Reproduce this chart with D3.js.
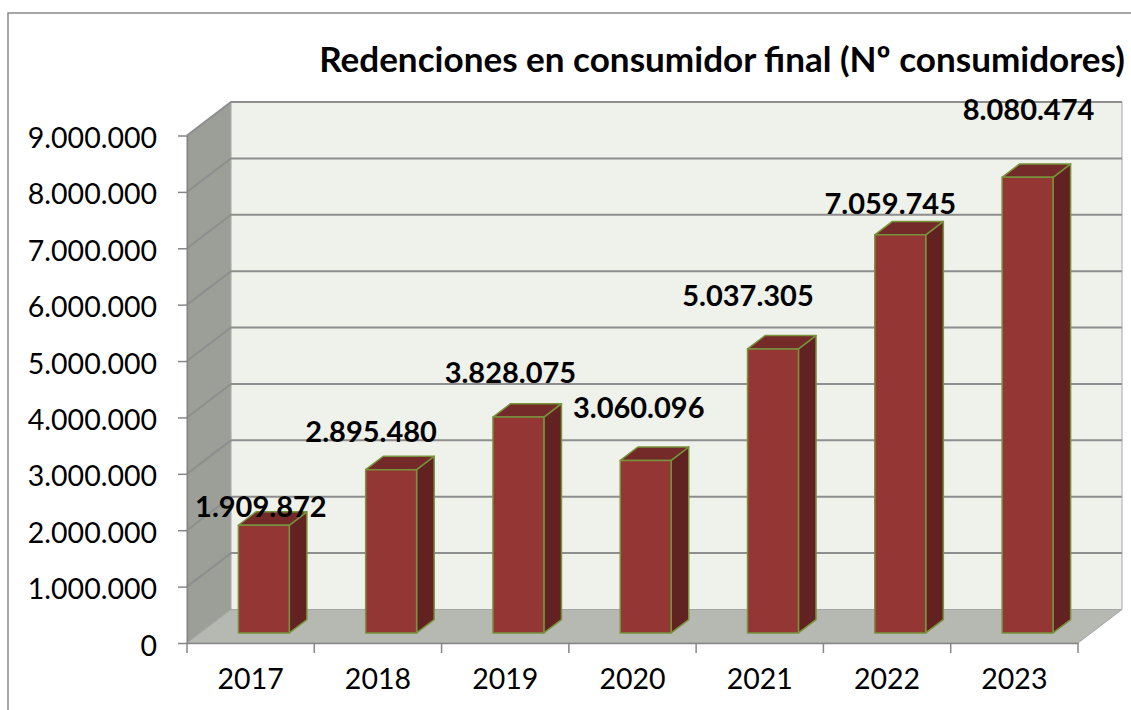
<!DOCTYPE html>
<html>
<head>
<meta charset="utf-8">
<script src="https://cdn.jsdelivr.net/npm/d3@7"></script>
<style>
  body { margin: 0; background: #fff; }
  svg { display: block; font-family: Lato, "Open Sans", sans-serif; }
</style>
</head>
<body>
<script>
// data
const years = ["2017", "2018", "2019", "2020", "2021", "2022", "2023"];
const values = [1909872, 2895480, 3828075, 3060096, 5037305, 7059745, 8080474];
const yTicks = [0, 1000000, 2000000, 3000000, 4000000, 5000000, 6000000, 7000000, 8000000, 9000000];
const title = "Redenciones en consumidor final (Nº consumidores)";

// layout
const W = 1131, H = 710;
const plotLeft = 187, plotRight = 1078, plotBottom = 643, plotTop = 135.5;
const DX = 44, DY = 33.5;            // depth of the 3d box
const barD0 = 0.3, barD1 = 0.7;      // bars sit in the middle of the depth
// excel put the value labels a bit all over the place
const labelNudge = [[-3, -8], [-20, -28], [-8, -34], [-7, -42], [-25, -43], [-10, -21], [1, -57]];
const titleWidth = 806;

const es = d3.formatLocale({decimal: ",", thousands: ".", grouping: [3], currency: ["", "€"]});
const fmt = es.format(",d");

const svg = d3.select("body").append("svg")
    .attr("width", W)
    .attr("height", H);

// chart border
svg.append("rect")
    .attr("x", 8).attr("y", 13)
    .attr("width", 1300).attr("height", 900)
    .attr("fill", "none")
    .attr("stroke", "#8a8a8a")
    .attr("stroke-width", 1.5);

const x = d3.scaleBand().domain(years).range([plotLeft, plotRight]).padding(0);
const y = d3.scaleLinear().domain([0, 9000000]).range([plotBottom, plotTop]);

// shift a front-plane point back by depth d (0..1)
const P = (px, py, d) => [px + d * DX, py - d * DY];
const pts = arr => arr.map(p => p.join(",")).join(" ");

// left wall
svg.append("polygon")
    .attr("points", pts([P(plotLeft, y(0), 0), P(plotLeft, y(9e6), 0), P(plotLeft, y(9e6), 1), P(plotLeft, y(0), 1)]))
    .attr("fill", "#9c9e98")
    .attr("stroke", "#a6a6a6")
    .attr("stroke-width", 1);

// back wall
svg.append("polygon")
    .attr("points", pts([P(plotLeft, y(0), 1), P(plotLeft, y(9e6), 1), P(plotRight, y(9e6), 1), P(plotRight, y(0), 1)]))
    .attr("fill", "#eff1eb")
    .attr("stroke", "#a6a6a6")
    .attr("stroke-width", 1);

// floor
svg.append("polygon")
    .attr("points", pts([P(plotLeft, y(0), 0), P(plotRight, y(0), 0), P(plotRight, y(0), 1), P(plotLeft, y(0), 1)]))
    .attr("fill", "#b6b8b2")
    .attr("stroke", "#a6a6a6")
    .attr("stroke-width", 1);

// gridlines, on the side wall and the back wall
const grid = svg.append("g")
    .attr("stroke", "#8e8e8e")
    .attr("stroke-width", 2)
    .attr("fill", "none");

grid.selectAll("polyline")
    .data(yTicks.filter(d => d > 0))
    .join("polyline")
    .attr("points", d => pts([P(plotLeft, y(d), 0), P(plotLeft, y(d), 1), P(plotRight, y(d), 1)]));

// y axis
const yAxis = d3.axisLeft(y)
    .tickValues(yTicks)
    .tickFormat(fmt)
    .tickSizeInner(9)
    .tickSizeOuter(0)
    .tickPadding(21);

const gy = svg.append("g")
    .attr("transform", `translate(${plotLeft},0)`)
    .call(yAxis);
gy.select(".domain").attr("stroke", "#868686").attr("stroke-width", 1.5);
gy.selectAll(".tick line").attr("stroke", "#868686").attr("stroke-width", 1.5);
gy.selectAll(".tick text")
    .attr("dy", 12)
    .attr("fill", "#000")
    .style("font-family", "Lato")
    .style("font-size", "28.5px");

// x axis: labels at centres, ticks on the band edges
const xAxis = d3.axisBottom(x)
    .tickSize(0)
    .tickPadding(32);

const gx = svg.append("g")
    .attr("transform", `translate(0,${plotBottom})`)
    .call(xAxis);
gx.select(".domain").attr("stroke", "#868686").attr("stroke-width", 1.5);
gx.selectAll(".tick text")
    .attr("dy", "0.5em")
    .attr("fill", "#000")
    .style("font-family", "Lato")
    .style("font-size", "28.5px");

gx.selectAll(".edge")
    .data(d3.range(years.length + 1))
    .join("line")
    .attr("class", "edge")
    .attr("x1", i => plotLeft + i * x.step())
    .attr("x2", i => plotLeft + i * x.step())
    .attr("y1", 0)
    .attr("y2", 10)
    .attr("stroke", "#868686")
    .attr("stroke-width", 1.5);

// bars
const bw = x.bandwidth() * 0.4;
const bars = svg.append("g")
    .attr("stroke", "#77933c")
    .attr("stroke-width", 1.5)
    .attr("stroke-linejoin", "round");

const bar = bars.selectAll("g")
    .data(years.map((yr, i) => ({yr, v: values[i]})))
    .join("g");

const corner = (d, side, val, depth) => {
    const cx = x(d.yr) + x.bandwidth() / 2;
    return P(cx + side * bw / 2, y(val), depth);
};

// side face
bar.append("polygon")
    .attr("fill", "#622222")
    .attr("points", d => pts([
        corner(d, 1, d.v, barD0), corner(d, 1, d.v, barD1),
        corner(d, 1, 0, barD1), corner(d, 1, 0, barD0)]));

// top face
bar.append("polygon")
    .attr("fill", "#742a28")
    .attr("points", d => pts([
        corner(d, -1, d.v, barD0), corner(d, 1, d.v, barD0),
        corner(d, 1, d.v, barD1), corner(d, -1, d.v, barD1)]));

// front face
bar.append("polygon")
    .attr("fill", "#943634")
    .attr("points", d => pts([
        corner(d, -1, d.v, barD0), corner(d, 1, d.v, barD0),
        corner(d, 1, 0, barD0), corner(d, -1, 0, barD0)]));

// value labels
svg.append("g")
    .selectAll("text")
    .data(years.map((yr, i) => ({yr, v: values[i], n: labelNudge[i]})))
    .join("text")
    .attr("x", d => corner(d, 0, d.v, barD0)[0] + d.n[0])
    .attr("y", d => corner(d, 0, d.v, barD0)[1] + d.n[1])
    .attr("text-anchor", "middle")
    .style("font-family", "Lato")
    .style("font-weight", "bold")
    .style("font-size", "29px")
    .text(d => fmt(d.v));

// title, sized so it spans about the same width as the original (calibri is narrower)
const t = svg.append("text")
    .attr("x", 722)
    .attr("y", 72)
    .attr("text-anchor", "middle")
    .style("font-family", "Lato")
    .style("font-weight", "bold")
    .style("font-size", "30px")
    .text(title);
const tw = t.node().getComputedTextLength();
t.style("font-size", (30 * titleWidth / tw).toFixed(1) + "px");
</script>
</body>
</html>
